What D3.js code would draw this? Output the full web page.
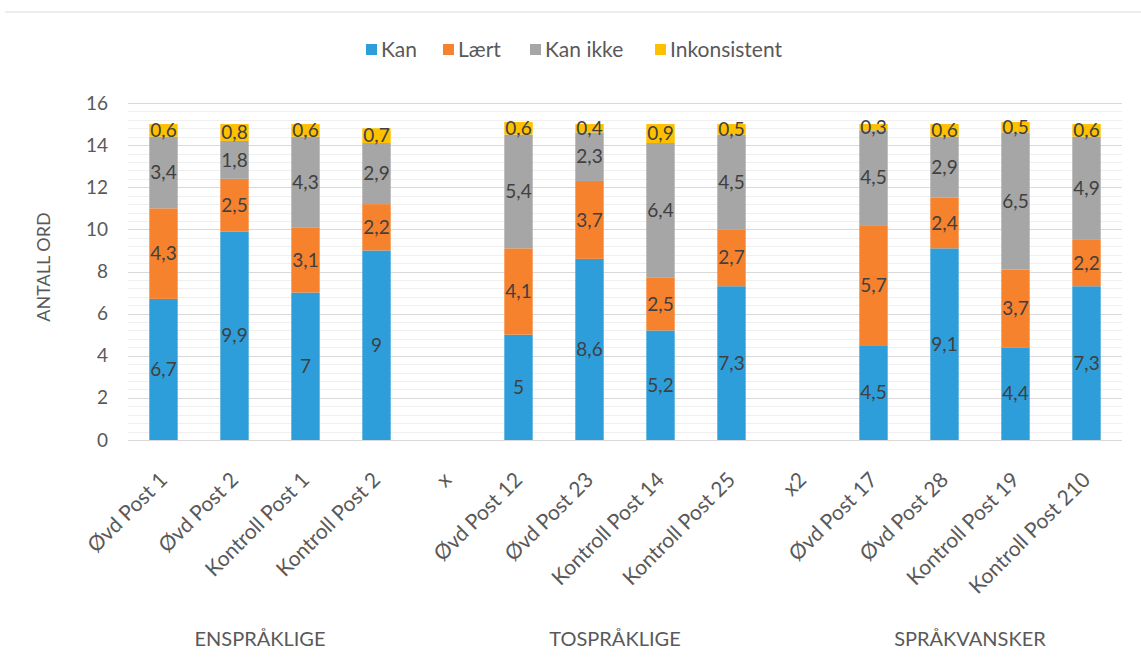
<!DOCTYPE html>
<html>
<head>
<meta charset="utf-8">
<script src="https://cdn.jsdelivr.net/npm/d3@7"></script>
<style>
  body { margin: 0; background: #fff; }
  text { font-family: Lato, "Open Sans", sans-serif; }
</style>
</head>
<body>
<div id="graph"></div>
<script>
// chart data
var categories = ["Øvd Post 1", "Øvd Post 2", "Kontroll Post 1", "Kontroll Post 2", "x",
  "Øvd Post 12", "Øvd Post 23", "Kontroll Post 14", "Kontroll Post 25", "x2",
  "Øvd Post 17", "Øvd Post 28", "Kontroll Post 19", "Kontroll Post 210"];
var kan     = [6.7, 9.9, 7, 9, null, 5, 8.6, 5.2, 7.3, null, 4.5, 9.1, 4.4, 7.3];
var laert   = [4.3, 2.5, 3.1, 2.2, null, 4.1, 3.7, 2.5, 2.7, null, 5.7, 2.4, 3.7, 2.2];
var kanIkke = [3.4, 1.8, 4.3, 2.9, null, 5.4, 2.3, 6.4, 4.5, null, 4.5, 2.9, 6.5, 4.9];
var inkons  = [0.6, 0.8, 0.6, 0.7, null, 0.6, 0.4, 0.9, 0.5, null, 0.3, 0.6, 0.5, 0.6];
var seriesNames = ["Kan", "Lært", "Kan ikke", "Inkonsistent"];
var groupNames = ["ENSPRÅKLIGE", "TOSPRÅKLIGE", "SPRÅKVANSKER"];
var groupFirst = [0, 5, 10], groupLast = [3, 8, 13];
var yTicks = [0, 2, 4, 6, 8, 10, 12, 14, 16];

var colors = ["#2e9edb", "#f7822e", "#a6a6a6", "#ffc000"];

var svg = d3.select('#graph').append("svg")
  .attr('width', 1141)
  .attr('height', 665);

var margin = {top: 103, right: 19, bottom: 225, left: 128},
  width = +svg.attr("width") - margin.left - margin.right,
  height = +svg.attr("height") - margin.top - margin.bottom,
  g = svg.append("g").attr("transform", "translate(" + margin.left + "," + margin.top + ")");

// thin frame line at the top
svg.append("line")
  .attr("x1", 5).attr("x2", 1141).attr("y1", 12).attr("y2", 12)
  .style("stroke", "#d9d9d9");

var x = d3.scaleBand().domain(categories).range([0, width]).paddingInner(0.6).paddingOuter(0.3);
var y = d3.scaleLinear().domain([0, 16]).range([height, 0]);

// minor + major gridlines
g.selectAll(".minor").data(d3.range(0, 16.01, 0.4))
  .enter().append("line")
  .attr("x1", 0).attr("x2", width)
  .attr("y1", function(d) { return Math.round(y(d)) + 0.5; })
  .attr("y2", function(d) { return Math.round(y(d)) + 0.5; })
  .style("stroke", "#efefef");

g.selectAll(".major").data(yTicks)
  .enter().append("line")
  .attr("x1", 0).attr("x2", width)
  .attr("y1", function(d) { return Math.round(y(d)) + 0.5; })
  .attr("y2", function(d) { return Math.round(y(d)) + 0.5; })
  .style("stroke", "#d9d9d9");

// y axis labels
var yAxis = g.append("g")
  .call(d3.axisLeft(y).tickValues(yTicks).tickSize(0).tickPadding(20));
yAxis.select(".domain").remove();
yAxis.selectAll("text")
  .style("font-size", "19px")
  .style("fill", "#595959")
  .style("font-family", "Lato, sans-serif");

svg.append("text")
  .attr("transform", "translate(50,267) rotate(-90)")
  .attr("text-anchor", "middle")
  .style("font-size", "18px")
  .style("fill", "#595959")
  .text("ANTALL ORD");

// build the stack
var rows = categories.map(function(c, i) {
  return {cat: c, kan: kan[i] || 0, laert: laert[i] || 0, kanIkke: kanIkke[i] || 0, inkons: inkons[i] || 0,
    raw: [kan[i], laert[i], kanIkke[i], inkons[i]]};
});
var keys = ["kan", "laert", "kanIkke", "inkons"];
var stacked = d3.stack().keys(keys)(rows);

var fmt = function(v) { return String(v).replace(".", ","); };

var layers = g.selectAll(".layer").data(stacked)
  .enter().append("g")
  .attr("class", "layer")
  .style("fill", function(d, i) { return colors[i]; });

layers.selectAll("rect")
  .data(function(d) { return d; })
  .enter().append("rect")
  .filter(function(d) { return d[1] - d[0] > 0; })
  .attr("x", function(d) { return x(d.data.cat); })
  .attr("width", x.bandwidth())
  .attr("y", function(d) { return y(d[1]); })
  .attr("height", function(d) { return y(d[0]) - y(d[1]); });

// data labels
stacked.forEach(function(layer, li) {
  g.selectAll(".lbl" + li)
    .data(layer.filter(function(d) { return d.data.raw[li] != null; }))
    .enter().append("text")
    .attr("x", function(d) { return x(d.data.cat) + x.bandwidth() / 2; })
    .attr("y", function(d) { return y((d[0] + d[1]) / 2); })
    .attr("dy", "0.35em")
    .attr("text-anchor", "middle")
    .style("font-size", "19px")
    .style("fill", "#404040")
    .text(function(d) { return fmt(d.data.raw[li]); });
});

// category labels
g.selectAll(".cat").data(categories)
  .enter().append("text")
  .attr("transform", function(d) {
    return "translate(" + (x(d) + x.bandwidth() / 2) + "," + (height + 36) + ") rotate(-45)";
  })
  .attr("text-anchor", "end")
  .attr("dy", "0.35em")
  .style("font-size", "21px")
  .style("fill", "#595959")
  .text(function(d) { return d; });

// group labels
g.selectAll(".grp").data(groupNames)
  .enter().append("text")
  .attr("x", function(d, i) {
    return (x(categories[groupFirst[i]]) + x(categories[groupLast[i]]) + x.bandwidth()) / 2 - 10;
  })
  .attr("y", height + 206)
  .attr("text-anchor", "middle")
  .style("font-size", "20px")
  .style("fill", "#595959")
  .text(function(d) { return d; });

// legend
var legend = svg.append("g").attr("transform", "translate(0,50)");
var lx = 366, gaps = [0, 77, 164, 289];
seriesNames.forEach(function(name, i) {
  var item = legend.append("g").attr("transform", "translate(" + (lx + gaps[i]) + ",0)");
  item.append("rect")
    .attr("x", 0).attr("y", -6).attr("width", 11).attr("height", 11)
    .style("fill", colors[i]);
  item.append("text")
    .attr("x", 15).attr("y", 0).attr("dy", "0.35em")
    .style("font-size", "21px")
    .style("fill", "#595959")
    .text(name);
});
</script>
</body>
</html>
